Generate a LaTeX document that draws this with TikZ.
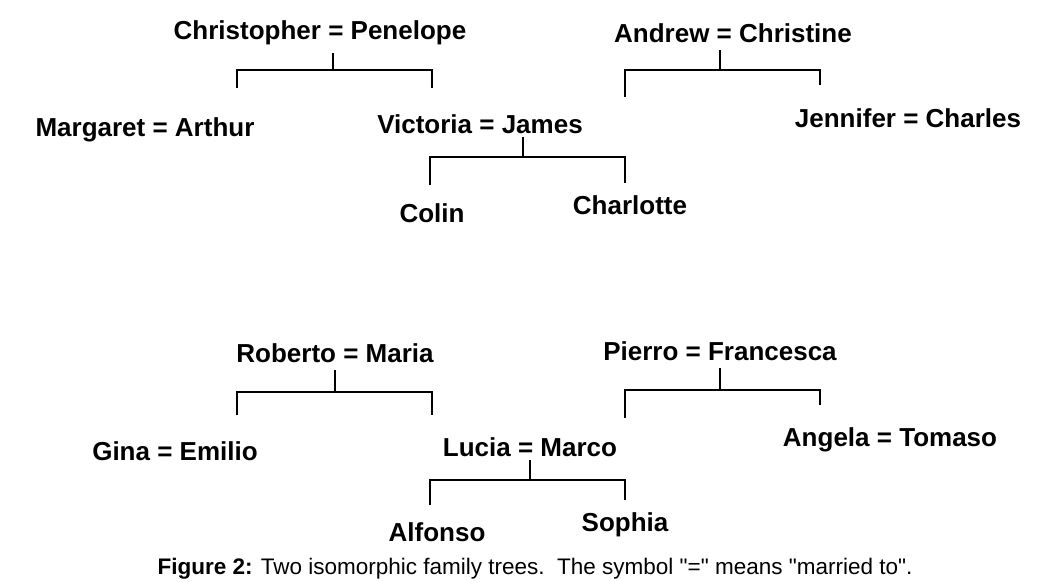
\documentclass[tikz,border=0pt]{standalone}
\usepackage{fontspec}
\setmainfont{Liberation Sans}
\newfontfamily\capfont{Liberation Sans}
\begin{document}
\begin{tikzpicture}[x=1pt,y=-1pt,
 lab/.style={inner sep=0pt,font=\fontsize{26}{29}\selectfont\bfseries},
 br/.style={line width=1.2pt}]
\useasboundingbox (0,0) rectangle (1044,581);
% top tree
\node[lab] (cp) at (320,33) {Christopher = Penelope};
\node[lab] (ma) at (145,130) {Margaret = Arthur};
\node[lab] (vj) at (480,124) {Victoria = James};
\node[lab] (ac) at (733,33) {Andrew = Christine};
\node[lab] (jc) at (908,118) {Jennifer = Charles};
\node[lab] (co) at (432,213) {Colin};
\node[lab] (ch) at (630,205) {Charlotte};
\draw[br] (333,53) -- (333,70) (237,88) -- (237,70) -- (432,70) -- (432,88);
\draw[br] (720,50) -- (720,70) (625,97) -- (625,70) -- (820,70) -- (820,85);
\draw[br] (523,137) -- (523,157) (430,185) -- (430,157) -- (625,157) -- (625,183);
% bottom tree
\node[lab] (rm) at (335,353) {Roberto = Maria};
\node[lab] (ge) at (175,451) {Gina = Emilio};
\node[lab] (lm) at (530,447) {Lucia = Marco};
\node[lab] (pf) at (720,351) {Pierro = Francesca};
\node[lab] (at) at (890,440) {Angela = Tomaso};
\node[lab] (al) at (437,532) {Alfonso};
\node[lab] (so) at (625,525) {Sophia};
\draw[br] (335,370) -- (335,392) (237,415) -- (237,392) -- (432,392) -- (432,415);
\draw[br] (720,368) -- (720,390) (625,418) -- (625,390) -- (820,390) -- (820,405);
\draw[br] (530,460) -- (530,480) (430,505) -- (430,480) -- (625,480) -- (625,500);
\node[inner sep=0pt,font=\capfont\fontsize{22.5}{26}\selectfont] (cap) at (535,569) {\textbf{Figure 2:} Two isomorphic family trees.\ \ The symbol "=" means "married to".};
\end{tikzpicture}
\end{document}
